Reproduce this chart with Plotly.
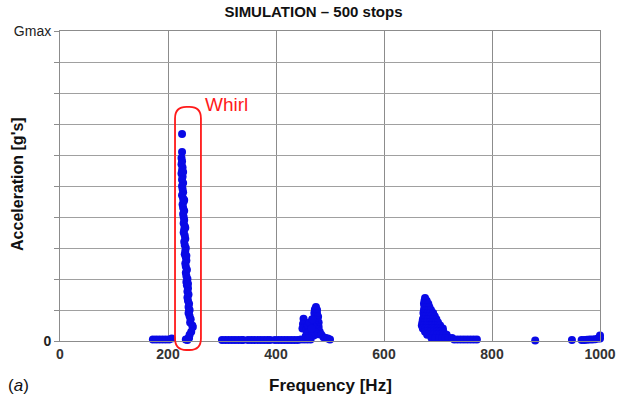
import plotly.graph_objects as go

# ---- data ----
x_ticks = [0, 200, 400, 600, 800, 1000]
x_tick_labels = ["0", "200", "400", "600", "800", "1000"]
y_ticks = [0, 1, 2, 3, 4, 5, 6, 7, 8, 9, 10]
y_tick_labels = ["0", "", "", "", "", "", "", "", "", "", "Gmax"]

# baseline dots (near zero acceleration)
base_f = [172, 178, 184, 190, 196, 202, 207,
          300, 306, 312, 318, 324, 330, 336, 339,
          348, 354, 360, 366, 372, 378, 384, 389,
          398, 404, 410, 416, 422, 428, 434, 440, 446, 452, 458, 464,
          880, 948, 966, 971, 976, 981, 986, 991, 996, 1000, 1000]
base_g = [0.05, 0.05, 0.05, 0.05, 0.05, 0.05, 0.08,
          0.03, 0.03, 0.03, 0.03, 0.03, 0.03, 0.03, 0.03,
          0.03, 0.03, 0.03, 0.03, 0.03, 0.03, 0.03, 0.03,
          0.03, 0.03, 0.03, 0.03, 0.03, 0.03, 0.03, 0.03, 0.05, 0.05, 0.05, 0.05,
          0.02, 0.03, 0.03, 0.03, 0.04, 0.05, 0.05, 0.06, 0.08, 0.08, 0.18]

# whirl column (~220-246 Hz)
whirl_f = [226, 226,
           225, 226, 225, 227, 226, 225, 227, 226, 228, 226,
           227, 228, 226, 228, 229, 227, 228, 230, 228, 229,
           230, 229, 231, 230, 229, 231, 232, 230, 231, 233,
           232, 231, 233, 234, 232, 233, 235, 233, 234, 236,
           234, 235, 237, 236, 238, 236, 237, 239, 238, 240,
           238, 240, 242, 241, 245, 246, 243, 240, 238, 236,
           228, 230, 232, 234, 237, 239, 233, 239]
whirl_g = [6.68, 6.10,
           5.9, 5.8, 5.7, 5.6, 5.5, 5.4, 5.3, 5.2, 5.1, 5.0,
           4.9, 4.8, 4.7, 4.6, 4.5, 4.4, 4.3, 4.2, 4.1, 4.0,
           3.9, 3.8, 3.7, 3.6, 3.5, 3.4, 3.3, 3.2, 3.1, 3.0,
           2.9, 2.8, 2.7, 2.6, 2.5, 2.4, 2.3, 2.2, 2.1, 2.0,
           1.9, 1.8, 1.7, 1.6, 1.5, 1.4, 1.3, 1.2, 1.1, 1.0,
           0.9, 0.8, 0.7, 0.6, 0.5, 0.45, 0.3, 0.2, 0.1, 0.03,
           5.45, 4.55, 3.65, 2.75, 1.85, 0.95, 0.05, 0.1]

# cluster around 450-500 Hz
c2_f = [474, 472, 476, 471, 476, 473, 478, 471, 476, 479, 472, 474, 479, 470,
        476, 481, 472, 478, 484, 470, 488, 492, 496, 500,
        451, 450, 453, 449, 456, 459, 462, 463, 458, 465, 455, 460, 466, 467]
c2_g = [1.10, 1.02, 1.00, 0.90, 0.88, 0.80, 0.78, 0.70, 0.68, 0.60, 0.60, 0.50, 0.45, 0.45,
        0.38, 0.30, 0.30, 0.22, 0.20, 0.18, 0.12, 0.10, 0.08, 0.05,
        0.72, 0.55, 0.45, 0.40, 0.35, 0.50, 0.60, 0.30, 0.25, 0.18, 0.15, 0.10, 0.40, 0.70]

# cluster around 670-775 Hz
c3_f = [676,
        675, 679,
        674, 678, 682,
        675, 679, 684,
        674, 678, 682, 687,
        673, 677, 681, 686, 691,
        674, 678, 683, 688, 694,
        672, 676, 681, 686, 691, 697,
        671, 675, 680, 685, 690, 696, 700,
        670, 674, 679, 684, 689, 694, 700, 704,
        672, 677, 682, 688, 693, 699, 705, 709,
        676, 681, 686, 692, 698, 704, 710,
        680, 686, 692, 698, 704, 710, 716,
        688, 695, 702, 708, 714, 720, 726,
        730, 736, 742, 748, 754, 760, 766, 772]
c3_g = [1.39,
        1.30, 1.30,
        1.20, 1.20, 1.20,
        1.10, 1.10, 1.10,
        1.00, 1.00, 1.00, 1.00,
        0.90, 0.90, 0.90, 0.90, 0.90,
        0.80, 0.80, 0.80, 0.80, 0.80,
        0.70, 0.70, 0.70, 0.70, 0.70, 0.70,
        0.60, 0.60, 0.60, 0.60, 0.60, 0.60, 0.60,
        0.50, 0.50, 0.50, 0.50, 0.50, 0.50, 0.50, 0.50,
        0.40, 0.40, 0.40, 0.40, 0.40, 0.40, 0.40, 0.40,
        0.30, 0.30, 0.30, 0.30, 0.30, 0.30, 0.30,
        0.20, 0.20, 0.20, 0.20, 0.20, 0.20, 0.20,
        0.10, 0.10, 0.10, 0.10, 0.10, 0.10, 0.10,
        0.05, 0.05, 0.05, 0.05, 0.05, 0.05, 0.05, 0.05]

X_RANGE = [0, 1000]
Y_RANGE = [0, 10]

# whirl box extent (data units)
box_f0, box_f1 = 213, 261
box_g0, box_g1 = -0.29, 7.55

BLUE = "#0a0ae6"
RED = "#ff1a1a"
FONT = "Liberation Sans, Arial"

fig = go.Figure()
for fx, gy in [(base_f, base_g), (whirl_f, whirl_g), (c2_f, c2_g), (c3_f, c3_g)]:
    fig.add_trace(go.Scatter(x=fx, y=gy, mode="markers",
                             marker=dict(color=BLUE, size=8, line=dict(width=0)),
                             showlegend=False, cliponaxis=False))


def px(f):
    return (f - X_RANGE[0]) / (X_RANGE[1] - X_RANGE[0])


def py(g):
    return (g - Y_RANGE[0]) / (Y_RANGE[1] - Y_RANGE[0])


# rounded rectangle for whirl (paper refs so it is not clipped below the axis)
x0, x1, y0, y1 = px(box_f0), px(box_f1), py(box_g0), py(box_g1)
rx, ry = 0.021, 0.037
path = (f"M {x0+rx},{y0} L {x1-rx},{y0} Q {x1},{y0} {x1},{y0+ry} "
        f"L {x1},{y1-ry} Q {x1},{y1} {x1-rx},{y1} "
        f"L {x0+rx},{y1} Q {x0},{y1} {x0},{y1-ry} "
        f"L {x0},{y0+ry} Q {x0},{y0} {x0+rx},{y0} Z")
fig.add_shape(type="path", path=path, xref="paper", yref="paper",
              line=dict(color=RED, width=1.8), layer="above")

fig.add_annotation(x=box_f1 + 3, y=7.62, xref="x", yref="y", text="Whirl",
                   showarrow=False, xanchor="left", yanchor="middle",
                   font=dict(family=FONT, size=19, color=RED))

fig.add_annotation(x=0.5, y=-0.142, xref="paper", yref="paper", text="<b>Frequency [Hz]</b>",
                   showarrow=False, xanchor="center", yanchor="middle",
                   font=dict(family=FONT, size=17, color="#111"))
fig.add_annotation(x=-0.08, y=0.506, xref="paper", yref="paper", text="<b>Acceleration [g's]</b>",
                   showarrow=False, textangle=-90, xanchor="center", yanchor="middle",
                   font=dict(family=FONT, size=16, color="#111"))
fig.add_annotation(x=-0.076, y=-0.142, xref="paper", yref="paper", text="(<i>a</i>)",
                   showarrow=False, xanchor="center", yanchor="middle",
                   font=dict(family=FONT, size=17, color="#111"))

fig.update_layout(
    width=627, height=402,
    margin=dict(l=60, r=27, t=31, b=61),
    paper_bgcolor="white", plot_bgcolor="white",
    title=dict(text="<b>SIMULATION – 500 stops</b>", x=0.5, xanchor="center",
               y=1 - 12 / 402, yanchor="middle",
               font=dict(family=FONT, size=15, color="#111")),
    xaxis=dict(range=X_RANGE, tickvals=x_ticks,
               ticktext=[f"<b>{t}</b>" for t in x_tick_labels],
               showgrid=True, gridcolor="#8c8c8c", gridwidth=1,
               showline=True, linecolor="#8c8c8c", mirror=True, zeroline=False,
               ticks="", tickfont=dict(family=FONT, size=14, color="#333"),
               fixedrange=True),
    yaxis=dict(range=Y_RANGE, tickvals=y_ticks,
               ticktext=["<b>0</b>"] + y_tick_labels[1:],
               showgrid=True, gridcolor="#a0a0a0", gridwidth=1,
               showline=True, linecolor="#8c8c8c", mirror=True, zeroline=False,
               ticks="outside", ticklen=5, tickcolor="#8c8c8c",
               tickfont=dict(family=FONT, size=14, color="#222"),
               fixedrange=True),
)

fig.write_html("out.html")
